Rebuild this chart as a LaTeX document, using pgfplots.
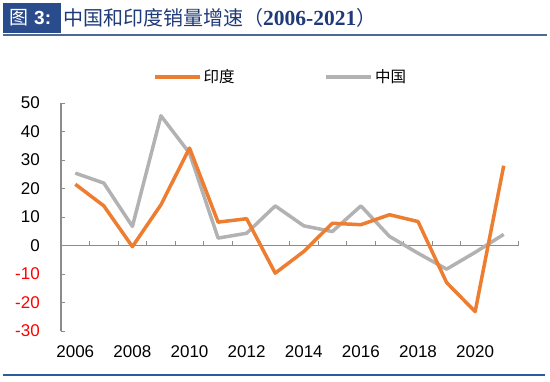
\documentclass[border=0pt]{standalone}
\usepackage{fontspec}
\setmainfont{Liberation Sans}
\newfontfamily\cjk{Noto Sans CJK SC}
\newfontfamily\serifb{Liberation Serif}
\usepackage{pgfplots}
\pgfplotsset{compat=1.18}
\definecolor{indiaor}{HTML}{ED7D31}
\definecolor{chinagr}{HTML}{B2B2B2}
\definecolor{titlebox}{HTML}{2B4C8C}
\definecolor{titletext}{HTML}{1F3A78}
\definecolor{rulecol}{HTML}{2E5B9E}
\definecolor{axisgr}{HTML}{8C8C8C}
\begin{document}
\begin{tikzpicture}
\path[use as bounding box] (0pt,0pt) rectangle (550pt,381pt);
\fill[titlebox] (3pt,348pt) rectangle (61pt,378pt);
\node[anchor=west, text=white, inner sep=0pt] at (9pt,363pt) {{\cjk\fontsize{19}{22}\selectfont 图}\hspace{6pt}{\bfseries\fontsize{19}{22}\selectfont 3:}};
\node[anchor=west, text=titletext, inner sep=0pt] at (63pt,363pt) {{\cjk\fontsize{20}{24}\selectfont 中国和印度销量增速（}{\serifb\bfseries\fontsize{21.5}{24}\selectfont 2006-2021}{\cjk\fontsize{20}{24}\selectfont ）}};
\draw[rulecol!60!gray, line width=1.5pt] (3pt,346pt) -- (547pt,346pt);
\draw[rulecol, line width=1.5pt] (3pt,6pt) -- (545pt,6pt);
\begin{axis}[at={(61pt,50pt)}, anchor=south west, scale only axis,
  width=457pt, height=228pt,
  xmin=2005.5, xmax=2021.5, ymin=-30, ymax=50,
  axis x line*=bottom, axis y line*=left,
  x axis line style={draw=none},
  y axis line style={axisgr, line width=1.2pt},
  xtick={2006,2008,...,2020},
  x tick style={draw=none},
  ytick={-30,-20,...,50},
  yticklabels={{\color{red}-30},{\color{red}-20},{\color{red}-10},0,10,20,30,40,50},
  y tick style={axisgr, line width=1pt},
  ytick align=inside,
  major tick length=4pt,
  /pgf/number format/assume math mode=true,
  /pgf/number format/set thousands separator={},
  tick label style={font=\fontsize{17}{20}\selectfont},
  xticklabel style={anchor=north, inner sep=0pt, yshift=-14pt},
  yticklabel style={anchor=east, inner sep=0pt, xshift=-21pt},
  legend columns=2,
  legend style={draw=none, fill=none, at={(0.201,1.114)}, anchor=west,
    font=\cjk\fontsize{15.5}{18}\selectfont, inner sep=0pt,
    /tikz/every even column/.append style={column sep=88pt}},
  legend cell align=left,
  legend image code/.code={\draw[#1] (0pt,0pt) -- (45pt,0pt);},
  clip=false,
]
\draw[axisgr, line width=1.2pt] (axis cs:2005.5,0) -- (axis cs:2021.5,0);
\pgfplotsinvokeforeach{2006.5,2007.5,...,2021.5}{
  \draw[axisgr, line width=1pt] (axis cs:#1,0) -- ++(0pt,5pt);
}
\addplot[chinagr, line width=3.5pt, line join=round, forget plot] coordinates {
(2006,25.4) (2007,21.9) (2008,6.7) (2009,45.5) (2010,32.4) (2011,2.6) (2012,4.3)
(2013,13.9) (2014,6.9) (2015,4.9) (2016,13.9) (2017,3.2) (2018,-2.7) (2019,-8.3)
(2020,-2.4) (2021,3.9)};
\addplot[indiaor, line width=3.5pt, line join=round] coordinates {
(2006,21.5) (2007,13.9) (2008,-0.4) (2009,14.3) (2010,34.2) (2011,8.2) (2012,9.4)
(2013,-9.7) (2014,-2.1) (2015,7.8) (2016,7.3) (2017,10.8) (2018,8.4) (2019,-13)
(2020,-23.2) (2021,28)};
\addlegendentry{印度}
\addlegendimage{chinagr, line width=3.5pt}
\addlegendentry{中国}
\end{axis}
\end{tikzpicture}
\end{document}
